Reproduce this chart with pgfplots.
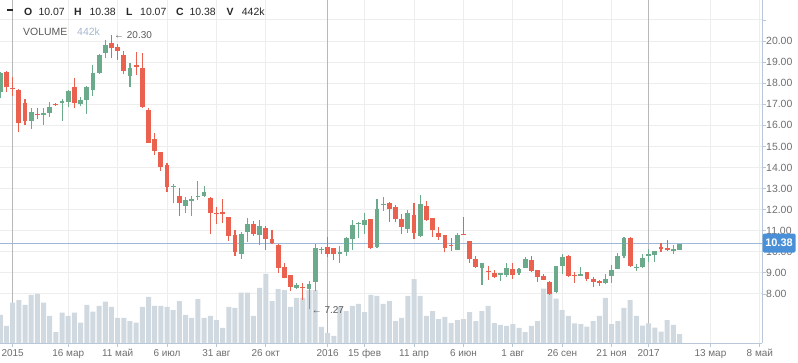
\documentclass[border=0pt]{standalone}
\usepackage{pgfplots}
\pgfplotsset{compat=1.18}
\usepackage{pgfplotstable}
\usepackage{fontspec}
\setmainfont{Liberation Sans}
\definecolor{upc}{HTML}{6BAA8B}
\definecolor{dnc}{HTML}{EB6150}
\definecolor{volc}{HTML}{D1D9E0}
\definecolor{gridc}{HTML}{EDEDED}
\definecolor{yearc}{HTML}{B8B8B8}
\definecolor{axc}{HTML}{B8C8D8}
\definecolor{pricec}{HTML}{9DB8DA}
\definecolor{tagc}{HTML}{4A90D9}
\definecolor{labc}{HTML}{6E6E6E}
\definecolor{volk}{HTML}{A5B8CC}

\pgfplotstableread{
i o h l c
0 17.60 18.55 17.28 18.50
5 16.22 16.82 15.83 16.63
7 16.49 16.80 16.02 16.60
8 16.60 17.09 16.41 16.87
10 17.07 17.25 16.22 17.14
11 17.12 17.68 16.88 17.61
13 17.03 17.36 16.93 17.20
14 17.20 17.87 16.55 17.80
15 17.67 18.86 17.40 18.50
16 18.48 19.40 18.45 19.34
17 19.44 20.05 19.18 19.81
21 18.35 18.94 17.83 18.73
28 13.07 13.20 12.30 13.13
30 12.19 12.61 11.85 12.46
31 12.42 12.66 11.71 12.50
32 12.59 13.36 12.46 12.65
33 12.65 13.14 12.61 12.82
39 9.90 10.95 9.67 10.85
40 10.95 11.59 10.48 11.32
42 10.80 11.51 10.32 11.22
48 8.30 8.50 8.24 8.42
50 8.25 8.62 7.27 8.47
51 8.58 10.37 8.15 10.19
52 10.07 10.24 9.90 10.13
55 9.88 10.27 9.48 9.99
56 10.00 10.72 9.80 10.65
57 10.61 11.51 10.09 11.26
58 11.30 11.40 10.67 11.36
59 11.27 11.83 10.84 11.51
61 10.21 12.50 10.17 12.03
62 12.20 12.60 11.94 12.26
66 11.10 11.98 10.88 11.83
68 10.77 12.69 10.69 12.27
74 10.09 10.91 10.09 10.80
78 9.25 9.48 8.42 9.48
81 8.92 9.01 8.63 8.98
82 8.90 9.45 8.82 9.22
84 9.01 9.25 8.90 9.18
85 9.25 9.77 9.25 9.66
90 8.11 9.33 8.03 9.33
91 9.34 9.90 8.95 9.74
94 8.87 9.29 8.87 8.95
98 8.50 8.95 8.46 8.71
99 8.87 9.37 8.53 9.14
100 9.18 9.93 9.18 9.80
101 9.80 10.72 9.69 10.67
103 9.24 9.41 9.10 9.30
104 9.29 9.90 9.22 9.69
105 9.82 10.12 9.50 9.88
106 9.86 10.04 9.53 10.04
109 10.06 10.32 9.88 10.12
110 10.07 10.38 10.07 10.38
}\tabup

\pgfplotstableread{
i o h l c
1 18.55 18.60 17.57 17.80
2 17.78 18.30 17.40 17.72
3 17.68 17.72 15.70 16.12
4 17.07 17.23 16.02 16.22
6 16.54 16.80 16.32 16.48
9 17.01 17.07 16.92 16.95
12 17.80 18.23 16.80 17.05
18 19.92 20.30 19.18 19.65
19 19.72 19.85 19.10 19.53
20 19.34 19.53 18.43 18.59
22 18.86 19.49 18.40 18.79
23 18.70 19.45 16.84 16.88
24 16.73 16.81 15.15 15.18
25 15.35 15.62 14.59 14.80
26 14.72 14.72 13.85 14.04
27 14.12 14.20 12.85 13.09
29 12.66 13.01 11.71 12.30
34 12.54 12.62 10.83 11.86
35 11.83 12.11 11.32 11.77
36 11.90 12.49 11.35 11.81
37 11.64 11.64 10.53 10.76
38 10.80 11.03 9.80 10.00
41 11.32 11.46 10.76 10.83
43 11.13 11.22 10.09 10.61
44 10.61 11.03 10.38 10.40
45 10.32 10.37 8.98 9.25
46 9.29 9.45 8.74 8.77
47 8.90 8.90 8.15 8.32
49 8.34 8.54 7.71 8.28
53 10.24 10.72 9.74 9.90
54 10.18 10.18 9.61 9.88
60 11.57 11.57 10.13 10.17
63 12.31 12.35 11.43 12.02
64 12.14 12.22 11.43 11.57
65 11.57 11.79 10.83 11.19
67 11.75 12.30 10.59 10.88
69 12.17 12.42 11.47 11.51
70 11.62 11.62 10.72 11.03
71 10.89 11.16 10.56 10.70
72 10.80 10.80 9.99 10.19
73 10.34 10.64 10.05 10.29
75 10.85 11.67 10.80 10.79
76 10.51 10.51 9.45 9.64
77 9.66 9.82 9.22 9.29
79 9.08 9.34 8.66 9.02
80 9.01 9.14 8.74 8.82
83 9.18 9.45 8.71 8.90
86 9.61 9.80 9.03 9.09
87 9.14 9.14 8.58 8.82
88 8.85 8.95 8.66 8.66
89 8.58 8.62 7.95 8.00
92 9.82 9.85 8.82 8.87
93 8.91 9.06 8.53 8.85
95 9.03 9.05 8.61 8.70
96 8.71 8.82 8.34 8.58
97 8.61 8.66 8.39 8.53
102 10.67 10.72 9.29 9.33
107 10.24 10.40 10.00 10.12
108 10.17 10.56 10.05 10.09
}\tabdn

\pgfplotstableread{
i v
0 1375
1 835
2 1979
3 2111
4 1866
5 2357
6 2406
7 1979
8 1326
9 540
10 1488
11 1326
12 1488
13 997
14 1866
15 1537
16 1817
17 2028
18 1768
19 1228
20 1228
21 1080
22 997
23 1768
24 2259
25 1817
26 1817
27 1768
28 1620
29 2062
30 1375
31 1228
32 2160
33 1228
34 1326
35 1129
36 737
37 1768
38 1719
39 2470
40 2470
41 1326
42 2701
43 3388
44 2062
45 2651
46 2602
47 1768
48 2210
49 2210
50 2602
51 2602
52 786
53 491
54 344
55 1768
56 1571
57 1817
58 1915
59 1522
60 2357
61 2308
62 1915
63 2062
64 1080
65 1228
66 2308
67 3142
68 2308
69 1326
70 1571
71 1178
72 1277
73 982
74 1129
75 1178
76 1522
77 1080
78 1571
79 1817
80 982
81 884
82 835
83 933
84 737
85 540
86 835
87 1080
88 2666
89 2489
90 2175
91 1620
92 1326
93 967
94 933
95 800
96 1080
97 1326
98 2210
99 933
100 1080
101 1719
102 2111
103 1326
104 849
105 967
106 751
107 555
108 1129
109 884
110 442
}\tabvol

\pgfplotsset{
  base/.style={at={(0,0)}, anchor=north west, scale only axis,
    width=762bp, height=343bp, xmin=-0.0486, xmax=123.35},
}

\begin{document}
\begin{tikzpicture}
% grid / ticks axis
\begin{axis}[base, ymin=5.674, ymax=21.945,
  axis line style={draw=none},
  xtick={11,19,27,35,43,59,67,75,83,91,99,115,123},
  xticklabels={16 мар,11 май,6 июл,31 авг,26 окт,15 фев,11 апр,6 июн,1 авг,26 сен,21 ноя,13 мар,8 май},
  extra x ticks={2,53,105},
  extra x tick labels={2015,2016,2017},
  extra x tick style={major grid style={yearc, line width=1bp}, tick label style={text=black!85}},
  ytick={8,...,21},
  yticklabels={8.00,9.00,10.00,11.00,12.00,13.00,14.00,15.00,16.00,17.00,18.00,19.00,20.00,{}},
  xmajorgrids, ymajorgrids,
  major grid style={gridc, line width=1bp},
  tick style={axc, line width=0.8bp},
  major tick length=3.5bp, tick align=outside,
  xtick pos=bottom, ytick pos=right, yticklabel pos=right,
  x tick label style={font=\fontsize{10}{12}\selectfont, text=labc, inner sep=1bp, yshift=-1.5bp},
  y tick label style={font=\fontsize{10.5}{12}\selectfont, text=labc, anchor=west, inner sep=0pt, xshift=0.5bp},
]
\end{axis}
% volume axis
\begin{axis}[base, ymin=0, ymax=16841, hide axis]
\addplot[ybar, bar width=5bp, bar shift=0pt, fill=volc, draw=none] table[x=i, y=v] {\tabvol};
\end{axis}
% price axis
\begin{axis}[base, ymin=5.674, ymax=21.945, hide axis]
\addplot[pricec, line width=0.9bp, forget plot] coordinates {(-1,10.38) (130,10.38)};
\addplot[draw=none, mark=none, forget plot, error bars/.cd, y dir=plus, y explicit, error mark=none,
  error bar style={draw=upc, line width=1.1bp}]
  table[x=i, y=l, y error plus expr=\thisrow{h}-\thisrow{l}] {\tabup};
\addplot[draw=none, mark=none, forget plot, error bars/.cd, y dir=plus, y explicit, error mark=none,
  error bar style={draw=upc, line width=4.8bp}]
  table[x=i, y=o, y error plus expr=\thisrow{c}-\thisrow{o}] {\tabup};
\addplot[draw=none, mark=none, forget plot, error bars/.cd, y dir=plus, y explicit, error mark=none,
  error bar style={draw=dnc, line width=1.1bp}]
  table[x=i, y=l, y error plus expr=\thisrow{h}-\thisrow{l}] {\tabdn};
\addplot[draw=none, mark=none, forget plot, error bars/.cd, y dir=plus, y explicit, error mark=none,
  error bar style={draw=dnc, line width=4.8bp}]
  table[x=i, y=c, y error plus expr=\thisrow{o}-\thisrow{c}] {\tabdn};
\end{axis}
% axis lines
\draw[axc, line width=1bp] (762bp,0) -- (762bp,-343bp);
\draw[axc, line width=1bp] (0,-343bp) -- (762bp,-343bp);
% header
\draw[black!85, line width=2.2bp] (6.5bp,-10bp) -- (13bp,-10bp);
\begin{scope}[every node/.style={anchor=base west, inner sep=0pt, font=\fontsize{10.5}{12}\selectfont, text=black!85}]
\node at (24bp,-15bp) {\textbf{O}};
\node at (38.3bp,-15bp) {10.07};
\node at (74bp,-15bp) {\textbf{H}};
\node at (89.3bp,-15bp) {10.38};
\node at (126bp,-15bp) {\textbf{L}};
\node at (140bp,-15bp) {10.07};
\node at (176bp,-15bp) {\textbf{C}};
\node at (189.3bp,-15bp) {10.38};
\node at (226.5bp,-15bp) {\textbf{V}};
\node at (241.7bp,-15bp) {442k};
\node[text=black!65] at (23bp,-35bp) {VOLUME};
\node[text=volk] at (77bp,-35bp) {442k};
\node[text=black!65, font=\fontsize{10}{12}\selectfont] at (114bp,-38.5bp) {← 20.30};
\node[text=black!65, font=\fontsize{10}{12}\selectfont] at (311.7bp,-313bp) {← 7.27};
\end{scope}
% price tag
\node[fill=tagc, rounded corners=1.5bp, minimum width=33bp, minimum height=19bp, inner sep=0pt,
  text=white, font=\bfseries\fontsize{11}{12}\selectfont] at (779bp,-243bp) {10.38};
\pgfresetboundingbox
\path[use as bounding box] (0,0) rectangle (798bp,-363bp);
\end{tikzpicture}
\end{document}
